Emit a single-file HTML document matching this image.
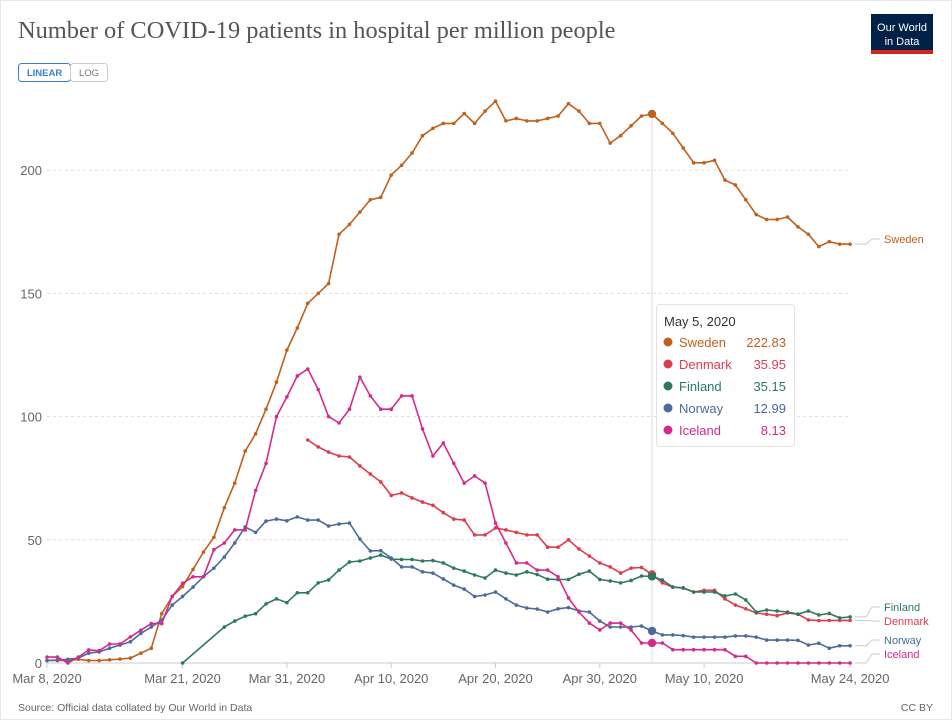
<!DOCTYPE html>
<html><head><meta charset="utf-8"><style>
body{margin:0;background:#fff;}
#wrap{position:relative;width:952px;height:720px;overflow:hidden;font-family:"Liberation Sans",sans-serif;}
</style></head><body><div id="wrap">
<svg id="s" width="952" height="720" xmlns="http://www.w3.org/2000/svg" style="position:absolute;left:0;top:0">
<rect x="0" y="0" width="952" height="720" fill="#fff"/>
<rect x="0.5" y="0.5" width="951" height="719" fill="none" stroke="#e6e6e6"/>
<text x="18" y="38" font-family="Liberation Serif,serif" font-size="24.4" fill="#555">Number of COVID-19 patients in hospital per million people</text>
<rect x="871" y="14" width="62" height="40" fill="#002147"/>
<rect x="871" y="50" width="62" height="4" fill="#ce261e"/>
<text x="902" y="31" font-size="11" fill="#fff" text-anchor="middle">Our World</text>
<text x="902" y="45" font-size="11" fill="#fff" text-anchor="middle">in Data</text>
<rect x="18.5" y="63.5" width="52" height="18" rx="3" fill="#fff" stroke="#3c7fd1"/>
<rect x="70.5" y="63.5" width="37" height="18" rx="3" fill="#fff" stroke="#ccc"/>
<text x="44.5" y="76" font-size="9.5" fill="#3c7fd1" text-anchor="middle" font-weight="bold">LINEAR</text>
<text x="89" y="76" font-size="9.5" fill="#777" text-anchor="middle">LOG</text>
<g id="grid"></g><g id="series"></g>
<text x="18" y="711" font-size="10.5" fill="#666">Source: Official data collated by Our World in Data</text>
<text x="933" y="711" font-size="10.5" fill="#666" text-anchor="end">CC BY</text>
<g>
<rect x="656.5" y="304.5" width="138" height="142" rx="3" fill="#fff" stroke="#e2e2e2"/>
<text x="664" y="326" font-size="13" fill="#333">May 5, 2020</text>
<circle cx="668" cy="342" r="4.5" fill="#c0601d"/><text x="679" y="347" font-size="13" fill="#c0601d">Sweden</text><text x="786" y="347" font-size="13" fill="#c0601d" text-anchor="end">222.83</text>
<circle cx="668" cy="364" r="4.5" fill="#de3c4e"/><text x="679" y="369" font-size="13" fill="#de3c4e">Denmark</text><text x="786" y="369" font-size="13" fill="#de3c4e" text-anchor="end">35.95</text>
<circle cx="668" cy="386" r="4.5" fill="#2c7a5c"/><text x="679" y="391" font-size="13" fill="#2c7a5c">Finland</text><text x="786" y="391" font-size="13" fill="#2c7a5c" text-anchor="end">35.15</text>
<circle cx="668" cy="408" r="4.5" fill="#4c6a9c"/><text x="679" y="413" font-size="13" fill="#4c6a9c">Norway</text><text x="786" y="413" font-size="13" fill="#4c6a9c" text-anchor="end">12.99</text>
<circle cx="668" cy="430" r="4.5" fill="#d42a8c"/><text x="679" y="435" font-size="13" fill="#d42a8c">Iceland</text><text x="786" y="435" font-size="13" fill="#d42a8c" text-anchor="end">8.13</text>
</g>
</svg>
<script>
var NS="http://www.w3.org/2000/svg";
function X(d){return 47+d*10.43;}
function Y(v){return 663-v*2.464;}
function el(t,a,p,txt){var e=document.createElementNS(NS,t);for(var k in a)e.setAttribute(k,a[k]);if(txt!==undefined)e.textContent=txt;p.appendChild(e);return e;}
var g=document.getElementById('grid');
[50,100,150,200].forEach(function(v){el('line',{x1:47,x2:851,y1:Y(v),y2:Y(v),stroke:'#ddd','stroke-dasharray':'3,3'},g);el('text',{x:42,y:Y(v)+5,'font-size':13,fill:'#666','text-anchor':'end'},g,v);});
el('text',{x:42,y:668,'font-size':13,fill:'#666','text-anchor':'end'},g,'0');
el('line',{x1:47,x2:851,y1:663,y2:663,stroke:'#ccc'},g);
el('line',{x1:652,x2:652,y1:113,y2:663,stroke:'#ddd'},g);
[[0,'Mar 8, 2020'],[13,'Mar 21, 2020'],[23,'Mar 31, 2020'],[33,'Apr 10, 2020'],[43,'Apr 20, 2020'],[53,'Apr 30, 2020'],[63,'May 10, 2020'],[77,'May 24, 2020']].forEach(function(t){
 el('line',{x1:X(t[0]),x2:X(t[0]),y1:663,y2:668,stroke:'#ccc'},g);
 el('text',{x:X(t[0]),y:683,'font-size':13,fill:'#666','text-anchor':'middle'},g,t[1]);});
var S={
sweden:{c:'#c0601d',s:0,v:[1,1,1,1.5,1,1,1.3,1.6,2,4,6,20,27,31,38,45,51,63,73,86,93,103,114,127,136,146,150,154,174,178,183,188,189,198,202,207,214,217,219,219,223,219,224,228,220,221,220,220,221,222,227,224,219,219,211,214,218,222,222.83,219,215,209,203,203,204,196,194,188,182,180,180,181,177,174,169,171,170,170]},
denmark:{c:'#de3c4e',s:25,v:[90.5,87.7,85.6,84,83.6,80,76.7,73.5,68,69,67,65.3,64,61,58.4,58,52,52,54.8,54,53,52,52,47,47,50,46.3,43.4,40.6,39,36.5,38.5,38.8,35.95,32.5,30.8,30.5,28.8,29.5,29.5,26,23.5,22,20.3,19.8,19.2,20.3,19.8,17.5,17.2,17.3,17.3,17.3]},
finland:{c:'#2c7a5c',s:13,v:[0,null,null,null,14.6,17,19,20,24,26,24.5,28.5,28.5,32.5,33.7,37.7,41,41.4,42.6,43.8,42.2,42,42,41.4,41.6,40.6,38.5,37.3,35.7,34.5,37.7,36.5,35.7,37,35.9,34,33.9,33.9,36,37.3,33.9,33.3,32.5,33.5,35.3,35.15,33.7,30.8,30.4,28.8,28.8,28.8,27.2,28,25.6,20.7,21.5,21.1,20.7,19.8,21.1,19.5,20.1,18.3,18.7]},
norway:{c:'#4c6a9c',s:0,v:[1,1.2,1.5,2,4,4.5,6,7.3,8.6,12,14.6,17.4,23.5,27,30.8,35,38.5,43,48.7,55.2,53,57.6,58.4,57.7,59.3,58,58,55.6,56.4,56.8,50.3,45.5,45.6,42.6,39,39,37,36.5,34.1,31.6,30,27,27.6,28.8,26,23.5,22.3,21.9,20.7,22,22.5,21.1,20.7,17,14.6,14.6,14.6,15,12.99,11.4,11.4,11.1,10.5,10.5,10.5,10.5,11,11,10.5,9.3,9.3,9.3,9.2,7.3,8,6,7,7]},
iceland:{c:'#d42a8c',s:0,v:[2.4,2.4,0,2.4,5.3,5,7.7,7.7,10.6,13.3,16,16,27,32.4,35,35,46,48.7,54,54,70,81,100,108,116.5,119.3,111,100,97.4,103,116,108.4,103,103,108.4,108.4,95,84,89.3,81,73,75.9,73,56.8,48.7,40.6,40.6,37.7,37.7,35,26.4,20.7,16.2,13.4,16.2,16.2,13.4,8.1,8.13,8.1,5.4,5.4,5.4,5.4,5.4,5.4,2.7,2.7,0,0,0,0,0,0,0,0,0,0]}
};
var sg=document.getElementById('series');
['sweden','denmark','finland','norway','iceland'].forEach(function(k){
 var o=S[k],pts=[];
 o.v.forEach(function(v,i){if(v!==null)pts.push([X(o.s+i),Y(v)]);});
 el('polyline',{points:pts.map(function(p){return p[0].toFixed(1)+','+p[1].toFixed(1)}).join(' '),fill:'none',stroke:o.c,'stroke-width':1.6,'stroke-linejoin':'round'},sg);
 pts.forEach(function(p){el('circle',{cx:p[0],cy:p[1],r:1.8,fill:o.c},sg);});
});
[['sweden',222.83],['denmark',35.95],['finland',35.15],['norway',12.99],['iceland',8.13]].forEach(function(a){el('circle',{cx:652,cy:Y(a[1]),r:4.2,fill:S[a[0]].c},sg);});
var labs=[['Sweden','sweden',170,243],['Finland','finland',18.7,611],['Denmark','denmark',17.3,625],['Norway','norway',7,644],['Iceland','iceland',0,658]];
labs.forEach(function(l){
 var y0=Y(l[2]);
 el('polyline',{points:'855,'+y0+' 866,'+y0+' 872,'+(l[3]-4)+' 880,'+(l[3]-4),fill:'none',stroke:'#ccc'},sg);
 el('text',{x:884,y:l[3],'font-size':11,fill:S[l[1]].c},sg,l[0]);
});
</script>
</div></body></html>
